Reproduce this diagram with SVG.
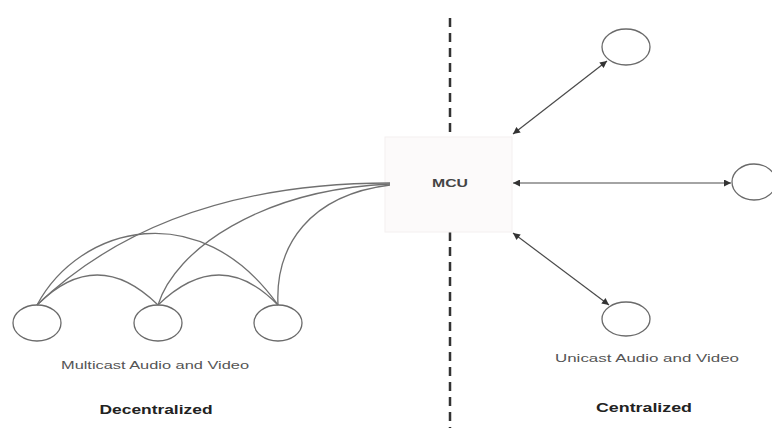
<svg xmlns="http://www.w3.org/2000/svg" width="772" height="428" viewBox="0 0 772 428">
<style>
.node{fill:#fff;stroke:#6a6a6a;stroke-width:1.3}
.curve{fill:none;stroke:#707070;stroke-width:1.3}
.link{fill:none;stroke:#4a4a4a;stroke-width:1.2}
.lbl{font-family:"Liberation Sans",Arial,sans-serif;font-size:11px;fill:#555}
.ttl{font-family:"Liberation Sans",Arial,sans-serif;font-size:12px;font-weight:bold;fill:#222}
</style>
<defs>
<marker id="ah" viewBox="0 0 10 10" refX="10" refY="5" markerWidth="9" markerHeight="7" markerUnits="userSpaceOnUse" orient="auto-start-reverse">
<path d="M0,0 L10,5 L0,10 z" fill="#333"/>
</marker>
</defs>
<rect width="772" height="428" fill="#fff"/>
<g id="divider">
<line x1="450" y1="18" x2="450" y2="135" stroke="#333" stroke-width="2.5" stroke-dasharray="9,6"/>
<line x1="450" y1="232" x2="450" y2="428" stroke="#333" stroke-width="2.5" stroke-dasharray="9,6"/>
</g>
<g id="mcu">
<rect x="385" y="137" width="127" height="95" fill="#fcfafa" stroke="#f4f0f0" stroke-width="1"/>
<text x="450" y="187" text-anchor="middle" font-family="Liberation Sans,Arial,sans-serif" font-size="11" font-weight="bold" fill="#444" textLength="36" lengthAdjust="spacingAndGlyphs">MCU</text>
</g>
<g id="peer1"><ellipse class="node" cx="37" cy="323" rx="24" ry="18"/></g>
<g id="peer2"><ellipse class="node" cx="158" cy="323" rx="24" ry="18"/></g>
<g id="peer3"><ellipse class="node" cx="278" cy="323" rx="24" ry="18"/></g>
<g id="client-top"><ellipse class="node" cx="626" cy="47" rx="24" ry="18"/></g>
<g id="client-right"><ellipse class="node" cx="754" cy="182" rx="22" ry="18"/></g>
<g id="client-bottom"><ellipse class="node" cx="626" cy="319" rx="24" ry="17"/></g>
<g id="connectors">
<path class="curve" d="M37,305 C110,235 220,183 390,183"/>
<path class="curve" d="M158,305 C175,250 260,190 390,184"/>
<path class="curve" d="M278,305 C275,245 310,195 390,185"/>
<path class="curve" d="M37,305 Q97,245 158,305"/>
<path class="curve" d="M158,305 Q220,245 278,305"/>
<path class="curve" d="M37,305 C80,225 200,195 278,305"/>
<line class="link" x1="513" y1="134" x2="607" y2="61" marker-start="url(#ah)" marker-end="url(#ah)"/>
<line class="link" x1="513" y1="183" x2="731" y2="183" marker-start="url(#ah)" marker-end="url(#ah)"/>
<line class="link" x1="513" y1="233" x2="609" y2="305" marker-start="url(#ah)" marker-end="url(#ah)"/>
</g>
<g id="labels">
<text class="lbl" x="155" y="369" text-anchor="middle" textLength="188" lengthAdjust="spacingAndGlyphs">Multicast Audio and Video</text>
<text class="ttl" x="156" y="414" text-anchor="middle" textLength="113" lengthAdjust="spacingAndGlyphs">Decentralized</text>
<text class="lbl" x="647" y="362" text-anchor="middle" textLength="184" lengthAdjust="spacingAndGlyphs">Unicast Audio and Video</text>
<text class="ttl" x="644" y="412" text-anchor="middle" textLength="96" lengthAdjust="spacingAndGlyphs">Centralized</text>
</g>
</svg>
